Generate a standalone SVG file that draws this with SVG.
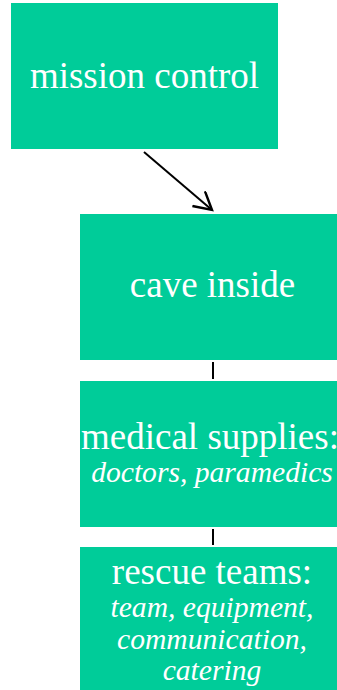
<svg xmlns="http://www.w3.org/2000/svg" width="337" height="690" viewBox="0 0 337 690">
<style>
.box{fill:#00cc99;}
.t{font-family:"Liberation Serif","Times New Roman",serif;fill:#fff;text-anchor:middle;font-size:37px;}
.i{font-style:italic;font-size:29.6px;}
.c{stroke:#000;stroke-width:2;fill:none;}
</style>
<defs>
<marker id="arr" markerWidth="22" markerHeight="22" refX="18" refY="10" orient="auto" markerUnits="userSpaceOnUse" viewBox="0 0 22 22">
<path d="M0.5,0.3 L18,10 L0.5,19.7" fill="none" stroke="#000" stroke-width="2.4"/>
</marker>
</defs>
<g id="connectors">
<line class="c" x1="144" y1="152" x2="212" y2="210" marker-end="url(#arr)"/>
<line class="c" x1="213" y1="362" x2="213" y2="379"/>
<line class="c" x1="213" y1="529" x2="213" y2="545"/>
</g>
<g id="mission-control">
<rect class="box" x="11" y="3" width="267" height="146"/>
<text class="t" x="144.5" y="88">mission control</text>
</g>
<g id="cave-inside">
<rect class="box" x="80" y="214" width="267" height="146"/>
<text class="t" x="212.5" y="297">cave inside</text>
</g>
<g id="medical-supplies">
<rect class="box" x="80" y="381" width="267" height="146"/>
<text class="t" x="210" y="449">medical supplies:</text>
<text class="t i" x="212" y="482">doctors, paramedics</text>
</g>
<g id="rescue-teams">
<rect class="box" x="80" y="547" width="267" height="146"/>
<text class="t" x="212" y="584">rescue teams:</text>
<text class="t i" x="212" y="617">team, equipment,</text>
<text class="t i" x="212" y="649">communication,</text>
<text class="t i" x="212" y="680">catering</text>
</g>
</svg>
